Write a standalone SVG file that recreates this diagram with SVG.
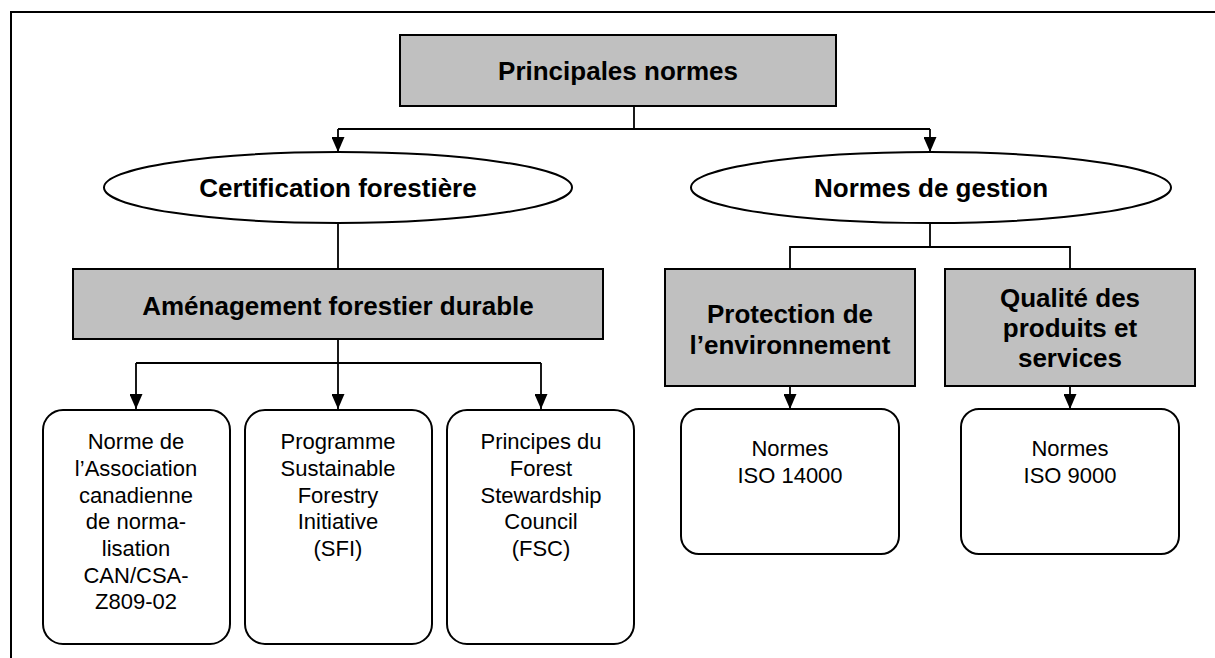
<svg xmlns="http://www.w3.org/2000/svg" width="1215" height="658" viewBox="0 0 1215 658">
<style>
.gbox{fill:#c0c0c0;stroke:#000;stroke-width:2}
.ell{fill:#fff;stroke:#000;stroke-width:2}
.rbox{fill:#fff;stroke:#000;stroke-width:2}
.b{font-family:"Liberation Sans",Arial,sans-serif;font-weight:bold;font-size:26px;text-anchor:middle;fill:#000}
.r{font-family:"Liberation Sans",Arial,sans-serif;font-size:22px;text-anchor:middle;fill:#000}
.c{fill:none;stroke:#000;stroke-width:1.8}
</style>
<defs>
<marker id="ar" markerUnits="userSpaceOnUse" markerWidth="15" markerHeight="13" refX="15" refY="6.5" orient="auto">
<path d="M0,0 L15,6.5 L0,13 Z" fill="#000"/>
</marker>
</defs>
<rect width="1215" height="658" fill="#fff"/>
<path d="M11,658 V12 H1215" fill="none" stroke="#000" stroke-width="2"/>
<g id="connectors">
<path class="c" d="M634,106 V129"/>
<path class="c" d="M338,129 H930"/>
<path class="c" d="M338,129 V152" marker-end="url(#ar)"/>
<path class="c" d="M930,129 V152" marker-end="url(#ar)"/>
<path class="c" d="M338,223 V269"/>
<path class="c" d="M338,339 V409" marker-end="url(#ar)"/>
<path class="c" d="M136,363 H541"/>
<path class="c" d="M136,363 V409" marker-end="url(#ar)"/>
<path class="c" d="M541,363 V409" marker-end="url(#ar)"/>
<path class="c" d="M930,223 V247"/>
<path class="c" d="M790,269 V247 H1070 V269"/>
<path class="c" d="M790,386 V409" marker-end="url(#ar)"/>
<path class="c" d="M1070,386 V409" marker-end="url(#ar)"/>
</g>
<g id="principales">
<rect class="gbox" x="400" y="35" width="436" height="71"/>
<text class="b" x="618" y="80">Principales normes</text>
</g>
<g id="certification">
<ellipse class="ell" cx="338" cy="187.5" rx="234" ry="35.5"/>
<text class="b" x="338" y="197">Certification forestière</text>
</g>
<g id="gestion">
<ellipse class="ell" cx="931" cy="187.5" rx="240" ry="35.5"/>
<text class="b" x="931" y="197">Normes de gestion</text>
</g>
<g id="amenagement">
<rect class="gbox" x="73" y="269" width="530" height="70"/>
<text class="b" x="338" y="315">Aménagement forestier durable</text>
</g>
<g id="protection">
<rect class="gbox" x="665" y="269" width="250" height="117"/>
<text class="b" x="790" y="323">Protection de</text>
<text class="b" x="790" y="354">l’environnement</text>
</g>
<g id="qualite">
<rect class="gbox" x="945" y="269" width="250" height="117"/>
<text class="b" x="1070" y="307">Qualité des</text>
<text class="b" x="1070" y="337">produits et</text>
<text class="b" x="1070" y="367">services</text>
</g>
<g id="csa">
<rect class="rbox" x="43" y="410" width="187" height="234" rx="20"/>
<text class="r" x="136" y="449">Norme de</text>
<text class="r" x="136" y="476">l’Association</text>
<text class="r" x="136" y="503">canadienne</text>
<text class="r" x="136" y="529">de norma-</text>
<text class="r" x="136" y="556">lisation</text>
<text class="r" x="136" y="583">CAN/CSA-</text>
<text class="r" x="136" y="609">Z809-02</text>
</g>
<g id="sfi">
<rect class="rbox" x="245" y="410" width="187" height="234" rx="20"/>
<text class="r" x="338" y="449">Programme</text>
<text class="r" x="338" y="476">Sustainable</text>
<text class="r" x="338" y="503">Forestry</text>
<text class="r" x="338" y="529">Initiative</text>
<text class="r" x="338" y="556">(SFI)</text>
</g>
<g id="fsc">
<rect class="rbox" x="447" y="410" width="187" height="234" rx="20"/>
<text class="r" x="541" y="449">Principes du</text>
<text class="r" x="541" y="476">Forest</text>
<text class="r" x="541" y="503">Stewardship</text>
<text class="r" x="541" y="529">Council</text>
<text class="r" x="541" y="556">(FSC)</text>
</g>
<g id="iso14000">
<rect class="rbox" x="681" y="409" width="218" height="145" rx="18"/>
<text class="r" x="790" y="456">Normes</text>
<text class="r" x="790" y="483">ISO 14000</text>
</g>
<g id="iso9000">
<rect class="rbox" x="961" y="409" width="218" height="145" rx="18"/>
<text class="r" x="1070" y="456">Normes</text>
<text class="r" x="1070" y="483">ISO 9000</text>
</g>
</svg>
